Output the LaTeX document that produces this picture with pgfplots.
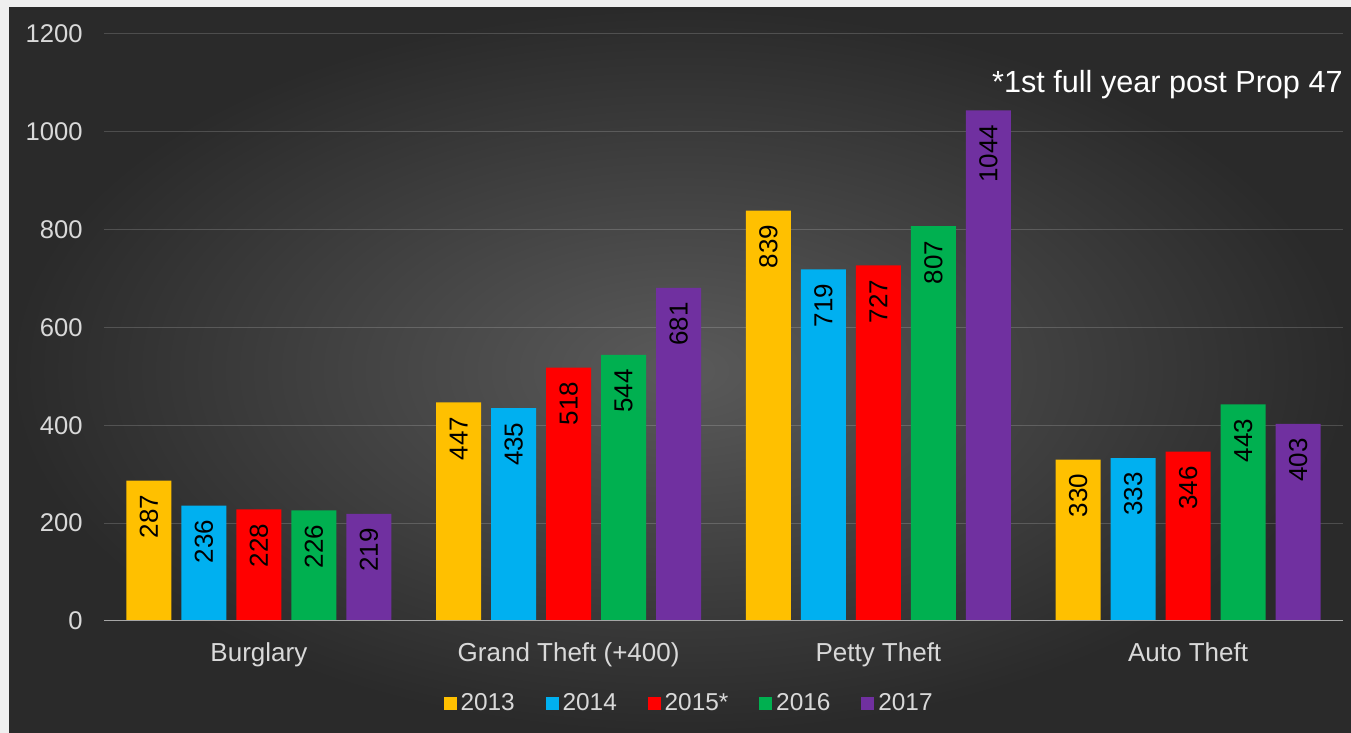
\documentclass[border=0pt]{standalone}
\usepackage{fontspec}
\setmainfont{Liberation Sans}
\usepackage{pgfplots}
\pgfplotsset{compat=1.18}
\definecolor{c13}{HTML}{FFC000}
\definecolor{c14}{HTML}{00B0F0}
\definecolor{c15}{HTML}{FF0000}
\definecolor{c16}{HTML}{00B050}
\definecolor{c17}{HTML}{7030A0}
\definecolor{bgin}{HTML}{5A5A5A}
\definecolor{bgout}{HTML}{2A2A2A}
\definecolor{border}{HTML}{EFEFEF}
\definecolor{txt}{HTML}{D9D9D9}
\definecolor{axgray}{HTML}{A6A6A6}
\begin{document}
\begin{tikzpicture}[x=1pt,y=1pt]
\fill[border] (0,0) rectangle (675.5,366.5);
\shade[inner color=bgin, outer color=bgout] (4.5,0) rectangle (675.5,362.5);
\begin{axis}[
  at={(52pt,56pt)}, anchor=south west,
  scale only axis, width=619.5pt, height=293.5pt,
  xmin=-0.5, xmax=3.5, ymin=0, ymax=1200,
  ybar=5pt, bar width=22.5pt,
  xtick={0,1,2,3},
  xticklabels={Burglary, Grand Theft (+400), Petty Theft, Auto Theft},
  ytick={0,200,...,1200},
  axis line style={draw=none},
  major tick length=0pt,
  ymajorgrids,
  major grid style={draw=white, draw opacity=0.17, line width=0.5pt},
  /pgf/number format/.cd, 1000 sep={}, assume math mode=true, /pgfplots/.cd,
  yticklabel style={font=\fontsize{12.8}{14}\selectfont, text=txt, xshift=-7.2pt},
  xticklabel style={font=\fontsize{13}{15}\selectfont, text=txt, yshift=-7.5pt},
  nodes near coords,
  every node near coord/.append style={rotate=90, anchor=east, text=black,
     inner sep=7pt, font=\fontsize{13}{14}\selectfont},
  every axis plot/.append style={draw=none,
     legend image code/.code={\fill[##1] (0pt,-3.25pt) rectangle (6.5pt,3.25pt);}},
  legend columns=-1,
  legend style={at={(0.473,-0.141)}, anchor=center, draw=none, fill=none,
     text=txt, font=\fontsize{12.2}{14}\selectfont,
     /tikz/every even column/.append style={column sep=13.4pt}},
]
\addplot[fill=c13] coordinates {(0,287) (1,447) (2,839) (3,330)};
\addplot[fill=c14] coordinates {(0,236) (1,435) (2,719) (3,333)};
\addplot[fill=c15] coordinates {(0,228) (1,518) (2,727) (3,346)};
\addplot[fill=c16] coordinates {(0,226) (1,544) (2,807) (3,443)};
\addplot[fill=c17] coordinates {(0,219) (1,681) (2,1044) (3,403)};
\legend{2013,2014,2015*,2016,2017}
\draw[axgray, line width=1pt] (rel axis cs:0,0) -- (rel axis cs:1,0);
\node[anchor=base east, inner sep=0pt, text=white, font=\fontsize{15.3}{17}\selectfont]
  at (rel axis cs:1,0.8995) {*1st full year post Prop 47};
\end{axis}
\pgfresetboundingbox
\path[use as bounding box] (0,0) rectangle (675.5,366.5);
\end{tikzpicture}
\end{document}
